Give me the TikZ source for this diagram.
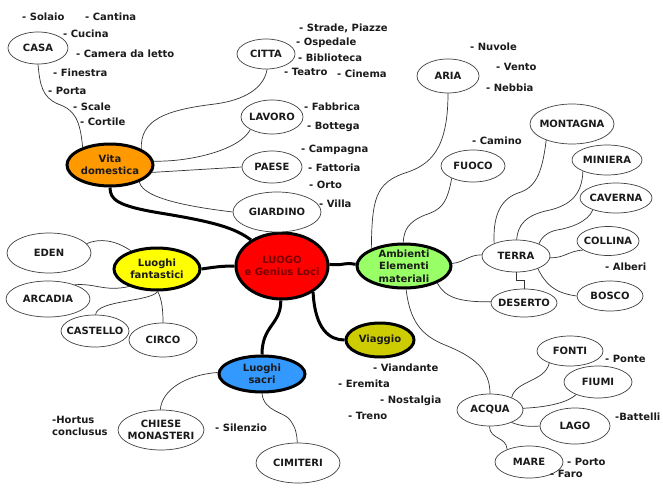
\documentclass[tikz,border=0pt]{standalone}
\usepackage{fontspec}
\setmainfont{DejaVu Sans}
\usetikzlibrary{shapes.geometric}
\definecolor{cOrange}{HTML}{FF9900}
\definecolor{cYellow}{HTML}{FFFF00}
\definecolor{cRed}{HTML}{FF0000}
\definecolor{cGreen}{HTML}{99FF66}
\definecolor{cOlive}{HTML}{CCCC00}
\definecolor{cBlue}{HTML}{3399FF}
\definecolor{tRed}{HTML}{7A0000}
\definecolor{tDark}{HTML}{1A1A1A}
\begin{document}
\begin{tikzpicture}[x=1pt,y=-1pt,
  txt/.style={font=\bfseries\fontsize{10}{12.5}\selectfont, text=tDark, align=center},
  leaf/.style={ellipse, draw=black!75, line width=0.7pt, fill=white, txt, inner xsep=-15pt, inner ysep=-8pt},
  hub/.style={ellipse, draw=black, line width=3pt, txt, inner xsep=-15pt, inner ysep=-14pt},
  item/.style={txt, anchor=west, inner sep=0pt, align=left},
  conn/.style={draw=black!80, line width=0.7pt},
  bold/.style={draw=black, line width=3pt},
]
\useasboundingbox (0,0) rectangle (663,495);

% hubs
\node[hub, fill=cRed, text=tRed, minimum width=92pt, minimum height=66pt] (luogo) at (282,266) {LUOGO\\e Genius Loci};
\node[hub, fill=cOrange, minimum width=86pt, minimum height=42pt] (vita) at (110,165) {Vita\\domestica};
\node[hub, fill=cYellow, minimum width=86pt, minimum height=42pt] (fant) at (157,269) {Luoghi\\fantastici};
\node[hub, fill=cGreen, minimum width=94pt, minimum height=44pt] (amb) at (404,266) {Ambienti\\Elementi\\materiali};
\node[hub, fill=cOlive, minimum width=68pt, minimum height=34pt] (viaggio) at (380,340) {Viaggio};
\node[hub, fill=cBlue, minimum width=86pt, minimum height=36pt] (sacri) at (262,374) {Luoghi\\sacri};

% leaves
\node[leaf, minimum width=60pt, minimum height=32pt] (casa) at (38,48) {CASA};
\node[leaf, minimum width=58pt, minimum height=30pt] (citta) at (266,54) {CITTA};
\node[leaf, minimum width=62pt, minimum height=34pt] (lavoro) at (272,117) {LAVORO};
\node[leaf, minimum width=60pt, minimum height=32pt] (paese) at (272,167) {PAESE};
\node[leaf, minimum width=88pt, minimum height=40pt] (giardino) at (277,212) {GIARDINO};
\node[leaf, minimum width=62pt, minimum height=34pt] (aria) at (448,76) {ARIA};
\node[leaf, minimum width=64pt, minimum height=32pt] (fuoco) at (473,166) {FUOCO};
\node[leaf, minimum width=84pt, minimum height=40pt] (montagna) at (572,124) {MONTAGNA};
\node[leaf, minimum width=70pt, minimum height=30pt] (miniera) at (607,160) {MINIERA};
\node[leaf, minimum width=72pt, minimum height=30pt] (caverna) at (616,198) {CAVERNA};
\node[leaf, minimum width=62pt, minimum height=29pt] (collina) at (608,241) {COLLINA};
\node[leaf, minimum width=68pt, minimum height=32pt] (terra) at (516,256) {TERRA};
\node[leaf, minimum width=66pt, minimum height=30pt] (bosco) at (610,296) {BOSCO};
\node[leaf, minimum width=66pt, minimum height=28pt] (deserto) at (524,303) {DESERTO};
\node[leaf, minimum width=84pt, minimum height=40pt] (eden) at (49,253) {EDEN};
\node[leaf, minimum width=84pt, minimum height=36pt] (arcadia) at (48,299) {ARCADIA};
\node[leaf, minimum width=68pt, minimum height=32pt] (castello) at (95,331) {CASTELLO};
\node[leaf, minimum width=68pt, minimum height=34pt] (circo) at (163,340) {CIRCO};
\node[leaf, minimum width=86pt, minimum height=40pt] (chiese) at (161,430) {CHIESE\\MONASTERI};
\node[leaf, minimum width=84pt, minimum height=40pt] (cimiteri) at (298,463) {CIMITERI};
\node[leaf, minimum width=66pt, minimum height=30pt] (fonti) at (570,351) {FONTI};
\node[leaf, minimum width=68pt, minimum height=32pt] (fiumi) at (598,382) {FIUMI};
\node[leaf, minimum width=66pt, minimum height=32pt] (acqua) at (490,410) {ACQUA};
\node[leaf, minimum width=70pt, minimum height=36pt] (lago) at (575,426) {LAGO};
\node[leaf, minimum width=68pt, minimum height=32pt] (mare) at (529,462) {MARE};

% thick connectors
\draw[bold] (vita.-90) .. controls (110,200) and (118,206) .. (160,213) .. controls (215,222) and (235,228) .. (luogo.140);
\draw[bold] (fant.0) .. controls (215,267) and (222,266) .. (luogo.180);
\draw[bold] (luogo.2) .. controls (345,266) and (342,262) .. (amb.178);
\draw[bold] (luogo.-92) .. controls (281,325) and (262,325) .. (sacri.90);
\draw[bold] (luogo.-40) .. controls (315,330) and (330,340) .. (viaggio.180);

% thin connectors: Vita domestica
\draw[conn] (casa.-90) .. controls (40,85) and (42,97) .. (58,104) .. controls (75,110) and (80,120) .. (vita.147);
\draw[conn] (citta.-86) .. controls (264,88) and (245,100) .. (215,104) .. controls (165,110) and (140,120) .. (vita.27);
\draw[conn] (vita.5) .. controls (190,162) and (240,150) .. (lavoro.-150);
\draw[conn] (vita.-10) -- (paese.180);
\draw[conn] (vita.-30) .. controls (143,200) and (200,208) .. (giardino.180);

% Ambienti
\draw[conn] (aria.-90) .. controls (448,150) and (430,165) .. (405,173) .. controls (375,183) and (372,200) .. (amb.152);
\draw[conn] (fuoco.-150) .. controls (447,205) and (440,210) .. (425,215) .. controls (408,222) and (404,230) .. (amb.92);
\draw[conn] (amb.3) .. controls (465,262) and (468,255) .. (terra.178);
\draw[conn] (amb.-27) .. controls (445,298) and (460,302) .. (deserto.178);
\draw[conn] (amb.-85) .. controls (410,320) and (420,335) .. (445,345) .. controls (475,357) and (490,370) .. (acqua.90);

% Terra
\draw[conn] (montagna.-148) .. controls (542,175) and (535,188) .. (518,193) .. controls (498,200) and (493,220) .. (terra.150);
\draw[conn] (miniera.-155) .. controls (582,195) and (570,205) .. (550,210) .. controls (525,215) and (518,225) .. (terra.88);
\draw[conn] (caverna.-153) .. controls (588,222) and (570,228) .. (557,230) .. controls (547,232) and (541,238) .. (terra.28);
\draw[conn] (terra.-3) .. controls (565,258) and (568,251) .. (collina.-160);
\draw[conn] (terra.-30) .. controls (546,285) and (555,293) .. (bosco.180);
\draw[conn] (terra.-90) -- ++(0,8) -| (deserto.90);

% Acqua
\draw[conn] (acqua.30) .. controls (516,380) and (545,382) .. (fonti.-150);
\draw[conn] (acqua.3) .. controls (550,407) and (568,402) .. (fiumi.-150);
\draw[conn] (acqua.-30) .. controls (520,426) and (530,427) .. (lago.180);
\draw[conn] (acqua.-92) .. controls (490,440) and (506,436) .. (mare.150);

% Luoghi fantastici
\draw[conn] (eden.14) .. controls (100,238) and (115,240) .. (fant.145);
\draw[conn] (arcadia.28) .. controls (95,283) and (105,292) .. (fant.-148);
\draw[conn] (castello.88) .. controls (97,300) and (150,302) .. (fant.-88);
\draw[conn] (fant.-88) .. controls (162,300) and (163,310) .. (circo.90);

% Luoghi sacri
\draw[conn] (chiese.92) .. controls (162,390) and (185,375) .. (sacri.178);
\draw[conn] (sacri.-90) .. controls (264,412) and (285,412) .. (290,420) .. controls (296,428) and (297,435) .. (cimiteri.92);

% items
\node[item] (i1) at (22,17) {- Solaio};
\node[item] (i2) at (85,17) {- Cantina};
\node[item] (i3) at (63,34) {- Cucina};
\node[item] (i4) at (76,54) {- Camera da letto};
\node[item] (i5) at (53,73) {- Finestra};
\node[item] (i6) at (48,91) {- Porta};
\node[item] (i7) at (73,107) {- Scale};
\node[item] (i8) at (80,122) {- Cortile};
\node[item] (i9) at (299,28) {- Strade, Piazze};
\node[item] (i10) at (296,43) {- Ospedale};
\node[item] (i11) at (298,58) {- Biblioteca};
\node[item] (i12) at (284,72) {- Teatro};
\node[item] (i13) at (337,74) {- Cinema};
\node[item] (i14) at (304,107) {- Fabbrica};
\node[item] (i15) at (307,127) {- Bottega};
\node[item] (i16) at (301,150) {- Campagna};
\node[item] (i17) at (308,168) {- Fattoria};
\node[item] (i18) at (309,185) {- Orto};
\node[item] (i19) at (319,204) {- Villa};
\node[item] (i20) at (470,47) {- Nuvole};
\node[item] (i21) at (496,67) {- Vento};
\node[item] (i22) at (486,88) {- Nebbia};
\node[item] (i23) at (472,141) {- Camino};
\node[item] (i24) at (605,267) {- Alberi};
\node[item] (i25) at (373,368) {- Viandante};
\node[item] (i26) at (338,384) {- Eremita};
\node[item] (i27) at (380,401) {- Nostalgia};
\node[item] (i28) at (348,416) {- Treno};
\node[item] (i29) at (215,428) {- Silenzio};
\node[item] (i30) at (52,426) {-Hortus\\conclusus};
\node[item] (i31) at (605,359) {- Ponte};
\node[item] (i32) at (615,417) {-Battelli};
\node[item] (i33) at (567,462) {- Porto};
\node[item] (i34) at (550,474) {- Faro};
\end{tikzpicture}
\end{document}
